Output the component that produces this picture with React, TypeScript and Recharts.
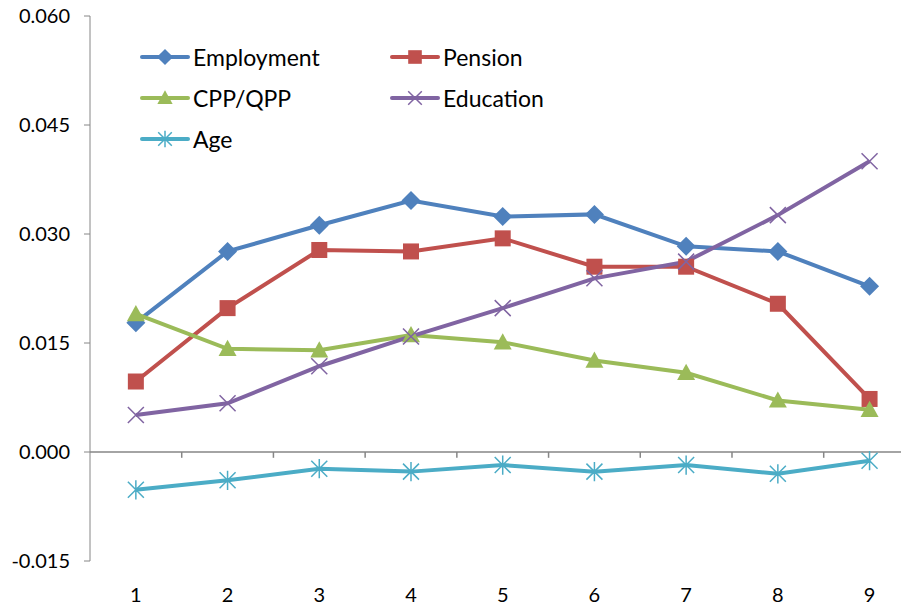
import { LineChart, Line, XAxis, YAxis, ReferenceLine } from "recharts";

const groups = [1, 2, 3, 4, 5, 6, 7, 8, 9];
const employment = [0.0178, 0.0276, 0.0312, 0.0346, 0.0324, 0.0327, 0.0283, 0.0276, 0.0228];
const pension = [0.0097, 0.0198, 0.0278, 0.0276, 0.0294, 0.0255, 0.0255, 0.0204, 0.0073];
const cppQpp = [0.0190, 0.0142, 0.0140, 0.0161, 0.0151, 0.0126, 0.0109, 0.0071, 0.0058];
const education = [0.0051, 0.0067, 0.0118, 0.0159, 0.0198, 0.0239, 0.0262, 0.0326, 0.0400];
const age = [-0.0052, -0.0039, -0.0023, -0.0027, -0.0018, -0.0027, -0.0018, -0.0030, -0.0012];
const yTicks = [-0.015, 0, 0.015, 0.03, 0.045, 0.06];
const boundaries = [1.5, 2.5, 3.5, 4.5, 5.5, 6.5, 7.5, 8.5];

const data = groups.map((g, i) => ({
  g,
  employment: employment[i],
  pension: pension[i],
  cppQpp: cppQpp[i],
  education: education[i],
  age: age[i],
}));

const FONT = "Lato, 'Open Sans', sans-serif";
const AXIS = "#868686";

type Kind = "diamond" | "square" | "triangle" | "cross" | "star";

const series: { key: string; name: string; color: string; kind: Kind }[] = [
  { key: "employment", name: "Employment", color: "#4F81BD", kind: "diamond" },
  { key: "pension", name: "Pension", color: "#C0504D", kind: "square" },
  { key: "cppQpp", name: "CPP/QPP", color: "#9BBB59", kind: "triangle" },
  { key: "education", name: "Education", color: "#8064A2", kind: "cross" },
  { key: "age", name: "Age", color: "#4BACC6", kind: "star" },
];

function Marker({ cx, cy, kind, color, s = 1 }: { cx: number; cy: number; kind: Kind; color: string; s?: number }) {
  if (cx == null || cy == null) return null;
  if (kind === "diamond") {
    const r = 9.5 * s;
    return <path d={`M${cx},${cy - r}L${cx + r},${cy}L${cx},${cy + r}L${cx - r},${cy}Z`} fill={color} />;
  }
  if (kind === "square") {
    const r = 8 * s;
    return <rect x={cx - r} y={cy - r} width={2 * r} height={2 * r} fill={color} />;
  }
  if (kind === "triangle") {
    const r = 9 * s;
    return <path d={`M${cx},${cy - r}L${cx + r},${cy + r * 0.8}L${cx - r},${cy + r * 0.8}Z`} fill={color} />;
  }
  const r = 8 * s;
  if (kind === "cross") {
    return (
      <path d={`M${cx - r},${cy - r}L${cx + r},${cy + r}M${cx - r},${cy + r}L${cx + r},${cy - r}`} stroke={color} strokeWidth={1.5} />
    );
  }
  return (
    <path
      d={`M${cx - r},${cy - r}L${cx + r},${cy + r}M${cx - r},${cy + r}L${cx + r},${cy - r}M${cx},${cy - r * 1.2}L${cx},${cy + r * 1.2}`}
      stroke={color}
      strokeWidth={1.5}
    />
  );
}

function ChartLegend() {
  const cell = (i: number) => {
    const s = series[i];
    return (
      <div style={{ display: "flex", alignItems: "center", height: 41 }}>
        <svg width={50} height={20}>
          <line x1={2} y1={10} x2={48} y2={10} stroke={s.color} strokeWidth={4} strokeLinecap="round" />
          <Marker cx={25} cy={10} kind={s.kind} color={s.color} s={0.85} />
        </svg>
        <span style={{ marginLeft: 3 }}>{s.name}</span>
      </div>
    );
  };
  return (
    <div
      style={{
        position: "absolute",
        left: 140,
        top: 36,
        fontFamily: FONT,
        fontSize: 23,
        color: "#000",
        display: "grid",
        gridTemplateColumns: "250px 200px",
      }}
    >
      {cell(0)}
      {cell(1)}
      {cell(2)}
      {cell(3)}
      {cell(4)}
    </div>
  );
}

export default function App() {
  return (
    <div style={{ margin: -8, background: "#fff", position: "relative", width: 909, height: 611 }}>
      <LineChart width={909} height={611} data={data} margin={{ top: 16, right: 0, bottom: 0, left: 0 }}>
        <XAxis
          dataKey="g"
          type="number"
          domain={[0.5, 9.43]}
          ticks={groups}
          axisLine={false}
          tickLine={false}
          height={50}
          tickSize={6}
          tickMargin={21}
          tick={{ fill: "#000", fontSize: 20, fontFamily: FONT }}
        />
        <YAxis
          domain={[-0.015, 0.06]}
          ticks={yTicks}
          width={90}
          stroke={AXIS}
          tickSize={6}
          tickMargin={14}
          tickFormatter={(v: number) => v.toFixed(3)}
          tick={{ fill: "#000", fontSize: 20, fontFamily: FONT }}
        />
        <ReferenceLine y={0} stroke={AXIS} strokeWidth={1.5} />
        {boundaries.map((b) => (
          <ReferenceLine key={b} segment={[{ x: b, y: 0 }, { x: b, y: -0.0008 }]} stroke={AXIS} strokeWidth={1.5} />
        ))}
        {series.map((s) => (
          <Line
            key={s.key}
            dataKey={s.key}
            name={s.name}
            stroke={s.color}
            strokeWidth={4}
            isAnimationActive={false}
            dot={(p: any) => <Marker key={`${s.key}-${p.index}`} cx={p.cx} cy={p.cy} kind={s.kind} color={s.color} />}
            activeDot={false}
          />
        ))}
      </LineChart>
      <ChartLegend />
    </div>
  );
}
